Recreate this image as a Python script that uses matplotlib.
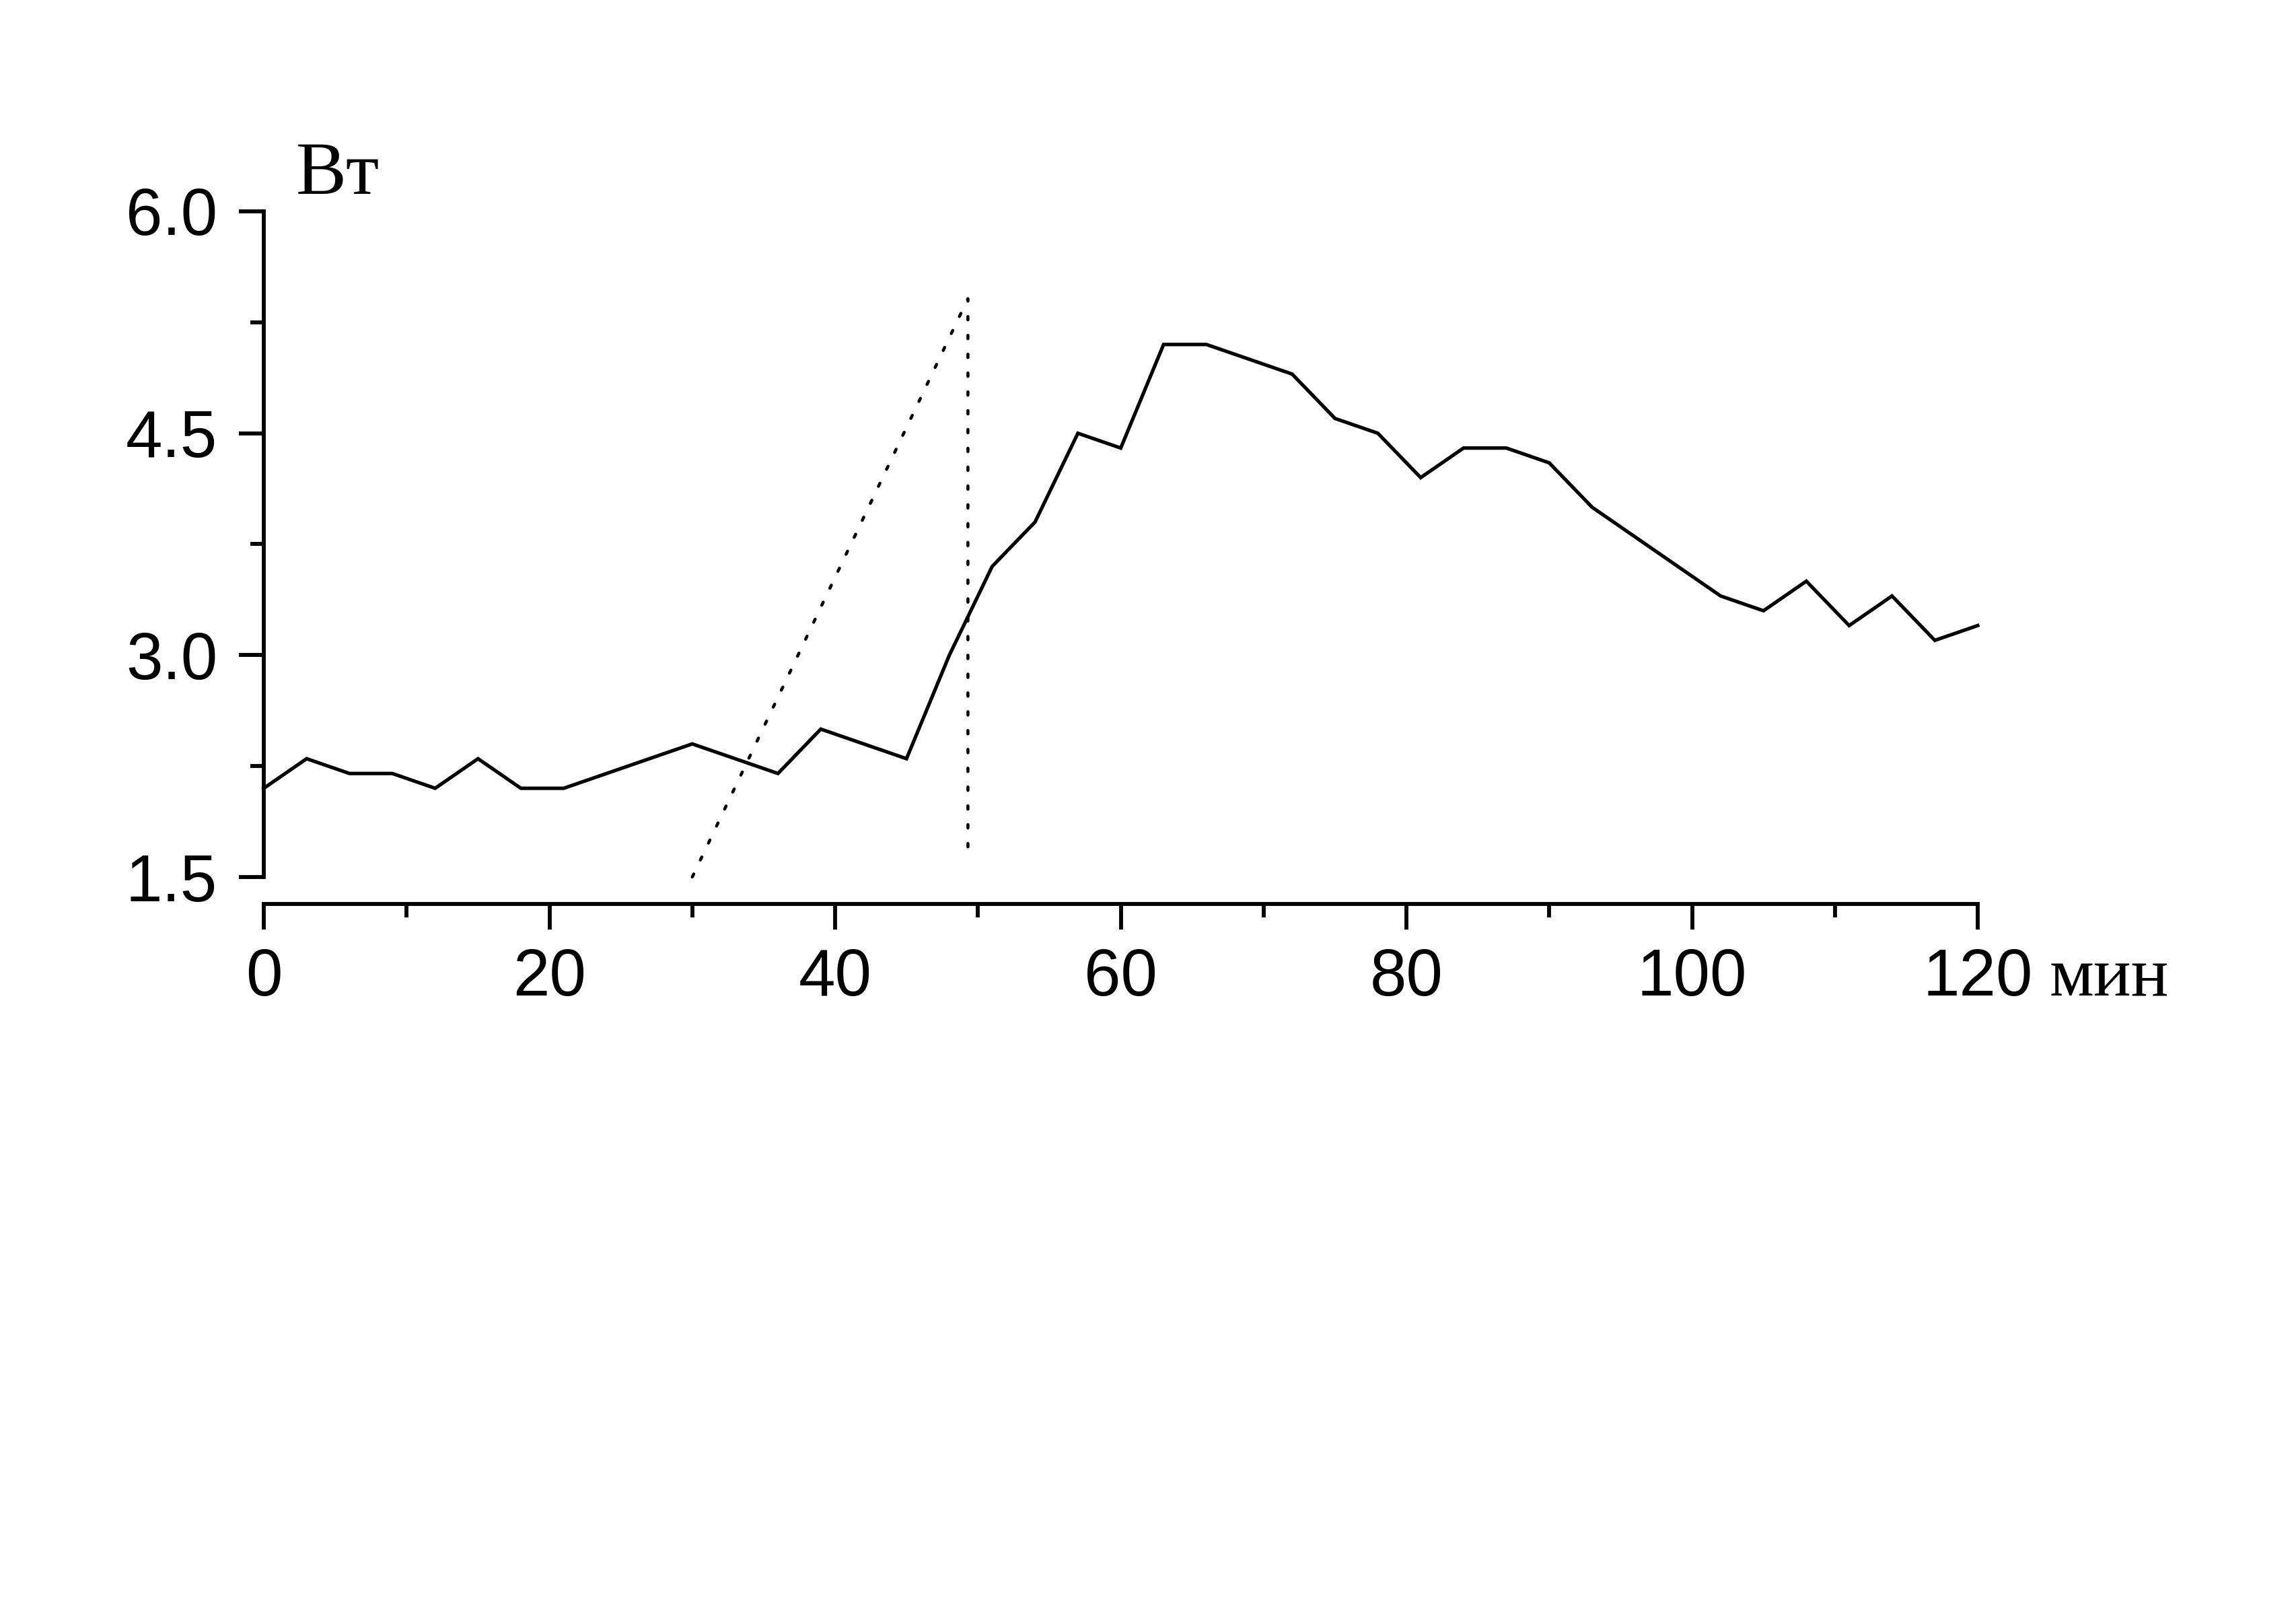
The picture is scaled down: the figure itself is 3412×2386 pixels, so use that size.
import matplotlib.pyplot as plt
from matplotlib.ticker import MultipleLocator

# solid curve: time (min) and power (W)
t_min = [0, 3, 6, 9, 12, 15, 18, 21, 24, 27, 30, 33, 36, 39, 42, 45, 48, 51, 54, 57, 60,
         63, 66, 69, 72, 75, 78, 81, 84, 87, 90, 93, 96, 99, 102, 105, 108, 111, 114, 117, 120]
power = [2.1, 2.3, 2.2, 2.2, 2.1, 2.3, 2.1, 2.1, 2.2, 2.3, 2.4, 2.3, 2.2, 2.5, 2.4, 2.3, 3.0, 3.6, 3.9, 4.5, 4.4,
         5.1, 5.1, 5.0, 4.9, 4.6, 4.5, 4.2, 4.4, 4.4, 4.3, 4.0, 3.8, 3.6, 3.4, 3.3, 3.5, 3.2, 3.4, 3.1, 3.2]

# dotted guide line
guide_t = [30, 49.3, 49.3]
guide_p = [1.5, 5.41, 1.7]

xticks = [0, 20, 40, 60, 80, 100, 120]
yticks = [1.5, 3.0, 4.5, 6.0]

plt.rcParams['font.family'] = ['Liberation Sans', 'DejaVu Sans']

fig = plt.figure(figsize=(3412 / 300, 2386 / 300), dpi=300)
ax = fig.add_axes([392 / 3412, 1 - 1303 / 2386, (2939 - 392) / 3412, (1303 - 314) / 2386])

ax.plot(t_min, power, color='black', lw=1.25, clip_on=False, solid_joinstyle='miter')
ax.plot(guide_t, guide_p, color='black', lw=1.1, linestyle=(0, (1.1, 5.0)),
        dash_capstyle='round', clip_on=False)

ax.set_xlim(0, 120)
ax.set_ylim(1.5, 6.0)

for s in ['top', 'right']:
    ax.spines[s].set_visible(False)
for s in ['left', 'bottom']:
    ax.spines[s].set_linewidth(1.4)
ax.spines['bottom'].set_position(('outward', 9.6))

ax.set_xticks(xticks)
ax.set_xticklabels([str(v) for v in xticks])
ax.set_yticks(yticks)
ax.set_yticklabels(['%.1f' % v for v in yticks])
ax.xaxis.set_minor_locator(MultipleLocator(10))
ax.yaxis.set_minor_locator(MultipleLocator(0.75))

ax.tick_params(axis='both', which='major', length=9, width=1.4, labelsize=23.5, direction='out')
ax.tick_params(axis='both', which='minor', length=4.8, width=1.4, direction='out')
ax.tick_params(axis='x', which='major', pad=6.5)
ax.tick_params(axis='y', which='major', pad=7.5)

# unit labels
fig.text(440 / 3412, 1 - 288 / 2386, 'Вт', fontsize=27, family=['Liberation Serif', 'DejaVu Serif'],
         ha='left', va='baseline')
fig.text(3046 / 3412, 1 - 1479 / 2386, 'мин', fontsize=25, family=['Liberation Serif', 'DejaVu Serif'],
         ha='left', va='baseline')

fig.savefig('out.png', dpi=300)
